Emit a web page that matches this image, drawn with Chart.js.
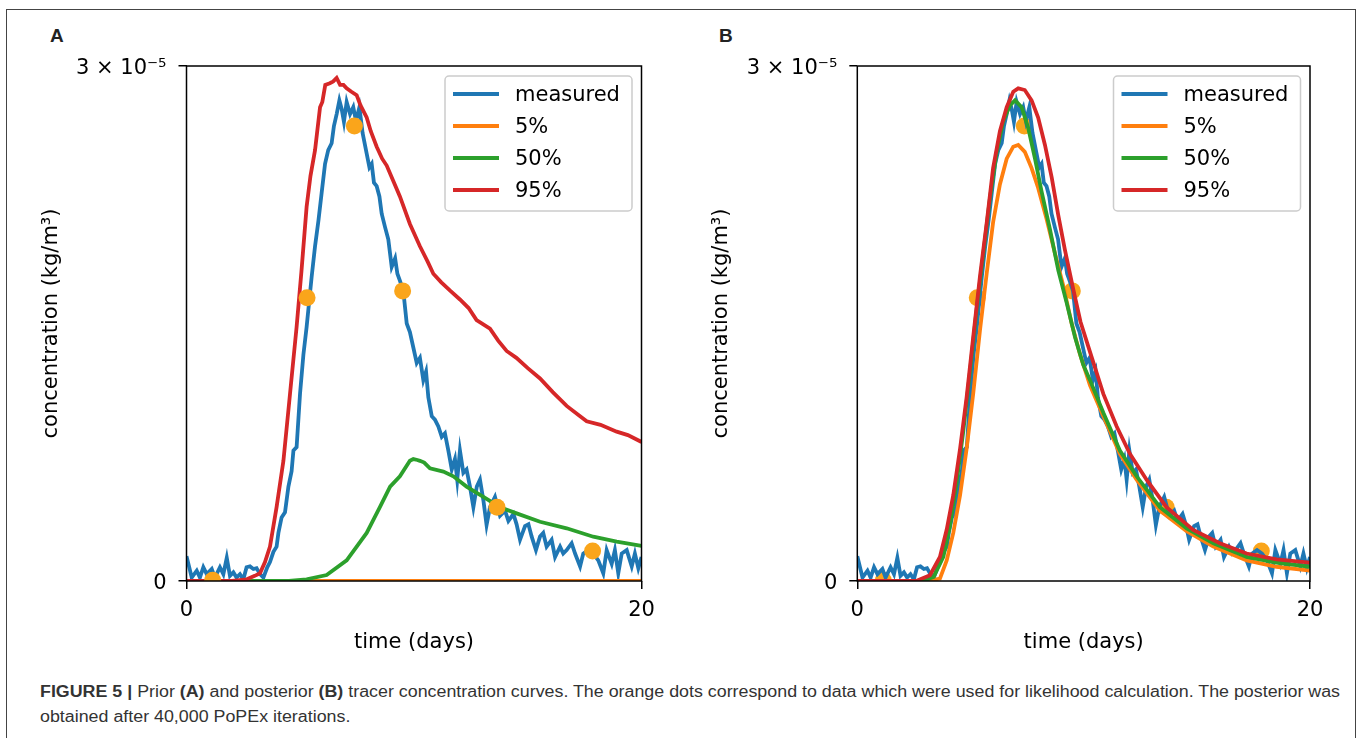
<!DOCTYPE html>
<html>
<head>
<meta charset="utf-8">
<script src="https://cdn.jsdelivr.net/npm/chart.js@4.4.1/dist/chart.umd.min.js"></script>
<style>
  body { margin: 0; background: #fff; width: 1357px; height: 738px; overflow: hidden; position: relative; }
  #frame { position: absolute; left: 6px; top: 9px; width: 1348px; height: 800px; border: 1px solid #444; }
  canvas { position: absolute; top: 0; }
  .tag { position: absolute; top: 25px; font: bold 19px 'Liberation Sans', Arial, sans-serif; color: #222; line-height: 22px; }
  #caption { position: absolute; left: 40px; top: 679px; font: 16px 'Liberation Sans', Arial, sans-serif; color: #333; line-height: 25px; white-space: nowrap; transform-origin: 0 0; }
  #caption b { font-weight: bold; }
</style>
</head>
<body>
<div id="frame"></div>
<div class="tag" style="left:50px">A</div>
<div class="tag" style="left:719px">B</div>
<canvas id="prior" width="670" height="670" style="left:0"></canvas>
<canvas id="posterior" width="687" height="670" style="left:670px"></canvas>
<div id="caption"><span id="line1"><b>FIGURE 5 |</b> Prior <b>(A)</b> and posterior <b>(B)</b> tracer concentration curves. The orange dots correspond to data which were used for likelihood calculation. The posterior was</span><br>obtained after 40,000 PoPEx iterations.</div>

<script>
// concentrations are in 1e-6 kg/m3, time in days

// measured tracer curve (same in both panels)
const measuredDays = [
  0, 0.23, 0.45, 0.59, 0.74, 0.89, 1.11, 1.25, 1.47, 1.62,
  1.77, 1.91, 2.06, 2.2, 2.35, 2.5, 2.64, 2.79, 2.94, 3.08,
  3.23, 3.38, 3.55, 3.67, 3.82, 3.96, 4.04, 4.18, 4.33, 4.48,
  4.62, 4.7, 4.84, 4.99, 5.14, 5.28, 5.5, 5.65, 5.8, 5.94,
  6.09, 6.23, 6.38, 6.48, 6.6, 6.72, 6.82, 6.92, 7.04, 7.19,
  7.33, 7.45, 7.6, 7.74, 7.92, 8.04, 8.14, 8.24, 8.36, 8.48,
  8.58, 8.73, 8.87, 9.02, 9.17, 9.27, 9.38, 9.53, 9.68, 9.82,
  9.97, 10.12, 10.26, 10.41, 10.53, 10.63, 10.78, 10.92, 11.07, 11.22,
  11.36, 11.51, 11.66, 11.8, 11.9, 12.02, 12.17, 12.31, 12.46, 12.61,
  12.76, 12.9, 13.05, 13.19, 13.34, 13.56, 13.78, 14.0, 14.15, 14.37,
  14.51, 14.66, 14.88, 15.03, 15.17, 15.36, 15.54, 15.68, 15.83, 16.05,
  16.2, 16.42, 16.56, 16.71, 16.93, 17.08, 17.3, 17.44, 17.66, 17.88,
  18.1, 18.32, 18.47, 18.69, 18.83, 18.98, 19.13, 19.35, 19.57, 19.71,
  19.86, 20
];
const measuredConc = [
  1.45, 0.2, 0.6, 0.2, 0.8, 0.4, 0.7, 0.2, 0.8, 0.4,
  1.35, 0.3, 0.5, 0.2, 0.4, 0.1, 0.8, 0.85, 0.7, 0.75,
  0.4, 0.2, 0.8, 1.1, 1.7, 2.0, 2.8, 3.7, 4.0, 5.5,
  6.4, 7.6, 7.8, 10.9, 13.2, 14.8, 17.7, 19.5, 21.0, 22.6,
  24.3, 25.1, 25.5, 26.5, 27.2, 28.0, 27.5, 26.75, 27.9, 27.2,
  27.6, 26.8, 27.6, 26.1, 24.9, 24.1, 24.3, 23.2, 23.0, 22.4,
  21.4, 20.6, 19.9, 18.3, 18.8, 17.9, 17.5, 16.9, 15.0, 14.5,
  13.6, 12.7, 13.0, 11.7, 12.2, 10.7, 9.6, 9.4, 9.0, 8.4,
  8.6, 7.6, 6.5, 7.1, 5.9, 7.6, 6.3, 6.5, 5.5, 4.3,
  5.5, 5.9, 4.7, 3.26, 4.3, 4.9, 3.8, 4.1, 3.5, 3.9,
  3.3, 2.4, 3.2, 3.3, 2.6, 1.8, 2.6, 2.8, 2.0, 2.4,
  1.4, 2.0, 1.6, 1.8, 2.2, 1.6, 0.85, 1.6, 1.8, 1.6,
  1.2, 0.45, 1.8, 1.0, 1.8, 0.45, 1.6, 1.8, 0.85, 1.6,
  0.75, 1.4
];

// data used for the likelihood (orange dots)
const dotDays = [1.15, 5.3, 7.38, 9.5, 13.65, 17.85];
const dotConc = [0.05, 16.5, 26.5, 16.9, 4.3, 1.75];

// prior (A)
const priorP5Days = [0, 20];
const priorP5Conc = [0, 0];
const priorP50Days = [0, 4.5, 5.28, 6.16, 7.04, 7.92, 8.5, 8.95, 9.38, 9.82, 9.97, 10.15, 10.26, 10.45, 10.7, 11.29, 11.73, 12.31, 13.05, 13.78, 14.51, 15.54, 16.71, 17.88, 18.91, 20];
const priorP50Conc = [0, 0, 0.1, 0.35, 1.2, 2.8, 4.3, 5.5, 6.1, 7.0, 7.1, 7.05, 7.0, 6.9, 6.56, 6.37, 6.1, 5.5, 4.9, 4.3, 3.94, 3.45, 3.07, 2.58, 2.29, 2.04];
const priorP95Days = [0, 2.0, 2.65, 3.0, 3.23, 3.45, 3.67, 3.96, 4.26, 4.55, 4.84, 5.05, 5.28, 5.45, 5.65, 5.87, 5.97, 6.1, 6.3, 6.45, 6.6, 6.75, 6.9, 7.04, 7.25, 7.48, 7.65, 7.92, 8.1, 8.36, 8.6, 8.8, 9.09, 9.38, 9.82, 10.26, 10.6, 10.85, 11.2, 11.6, 12.02, 12.4, 12.75, 13.34, 13.7, 14.07, 14.5, 15.0, 15.54, 16.1, 16.71, 17.2, 17.59, 18.2, 18.91, 19.4, 20];
const priorP95Conc = [0, 0, 0.1, 0.3, 0.45, 1.1, 2.0, 4.3, 7.0, 10.9, 14.8, 18.0, 21.8, 23.6, 25.1, 27.6, 27.9, 28.9, 29.0, 29.1, 29.3, 28.9, 28.9, 28.7, 28.5, 28.3, 27.7, 27.0, 26.2, 25.3, 24.6, 24.2, 23.3, 22.4, 20.8, 19.5, 18.6, 17.9, 17.4, 16.9, 16.4, 15.9, 15.2, 14.7, 14.0, 13.4, 13.0, 12.4, 11.8, 11.0, 10.2, 9.7, 9.3, 9.1, 8.7, 8.5, 8.1];

// posterior (B)
const postP5Days = [0, 3.1, 3.65, 3.95, 4.24, 4.54, 4.83, 5.12, 5.42, 5.72, 6.0, 6.3, 6.6, 6.89, 7.11, 7.4, 7.7, 7.99, 8.36, 8.73, 9.1, 9.47, 9.84, 10.28, 10.87, 11.6, 12.34, 13.37, 14.55, 15.73, 17.2, 18.52, 20];
const postP5Conc = [0, 0, 0.14, 1.2, 2.8, 5.0, 7.7, 10.9, 14.6, 17.95, 20.9, 23.1, 24.6, 25.3, 25.4, 25.0, 24.05, 22.9, 21.1, 19.1, 17.2, 15.0, 13.2, 11.4, 9.6, 7.4, 5.9, 4.1, 2.9, 2.0, 1.2, 0.83, 0.6];
const postP50Days = [0, 2.9, 3.37, 3.8, 4.09, 4.39, 4.68, 4.98, 5.27, 5.57, 5.86, 6.16, 6.45, 6.74, 6.97, 7.26, 7.55, 7.85, 8.14, 8.51, 8.88, 9.25, 9.62, 9.98, 10.28, 10.87, 11.6, 12.34, 13.37, 14.55, 15.73, 17.2, 18.52, 20];
const postP50Conc = [0, 0, 0.24, 1.4, 3.2, 5.75, 8.7, 12.2, 15.8, 19.1, 22.3, 25.0, 26.8, 27.7, 28.0, 27.6, 26.4, 24.6, 22.7, 20.5, 18.1, 16.2, 14.2, 12.6, 11.7, 9.8, 7.6, 6.1, 4.3, 3.07, 2.2, 1.4, 1.07, 0.83];
const postP95Days = [0, 2.6, 3.21, 3.65, 3.95, 4.24, 4.54, 4.83, 5.12, 5.42, 5.72, 6.0, 6.3, 6.6, 6.89, 7.11, 7.4, 7.7, 7.99, 8.29, 8.59, 8.88, 9.17, 9.54, 9.86, 10.28, 10.87, 11.46, 12.05, 12.78, 13.66, 14.84, 16.02, 17.2, 18.52, 20];
const postP95Conc = [0, 0, 0.34, 1.4, 3.0, 5.0, 7.7, 10.7, 14.2, 17.75, 20.9, 24.05, 26.2, 27.6, 28.5, 28.7, 28.6, 28.0, 27.0, 25.4, 23.5, 21.3, 19.3, 17.0, 15.1, 13.35, 10.9, 9.0, 7.4, 5.9, 4.3, 2.97, 2.2, 1.6, 1.26, 1.07];

// axes
const xTickVals = [0, 20];
const yTickVals = [0, 30];
const yTickText = ['0', '3 × 10⁻⁵'];

const BLUE = '#1f77b4', ORANGE = '#ff7f0e', GREEN = '#2ca02c', RED = '#d62728', DOT = '#faa51b';

Chart.defaults.font.family = "'DejaVu Sans', sans-serif";
Chart.defaults.font.size = 21;
Chart.defaults.color = '#000';

function pts(xs, ys) {
  return xs.map((x, i) => ({ x: x, y: ys[i] }));
}

function curve(label, xs, ys, color, order) {
  return {
    label: label,
    data: pts(xs, ys),
    borderColor: color,
    backgroundColor: color,
    borderWidth: 3.8,
    pointRadius: 0,
    tension: 0,
    fill: false,
    clip: 0,
    order: order,
    inLegend: true
  };
}

function dots(order) {
  return {
    data: pts(dotDays, dotConc),
    showLine: false,
    pointRadius: 8.5,
    pointHoverRadius: 8.5,
    pointBorderWidth: 0,
    backgroundColor: DOT,
    borderColor: DOT,
    clip: 0,
    order: order
  };
}

// box around the axes + legend in the upper right
const boxLegend = {
  id: 'boxLegend',
  afterDatasetsDraw(chart) {
    const ctx = chart.ctx;
    const a = chart.chartArea;
    ctx.save();
    ctx.strokeStyle = '#000';
    ctx.lineWidth = 1.5;
    ctx.strokeRect(a.left, a.top, a.right - a.left, a.bottom - a.top);

    const bw = 187, bh = 135;
    const bx = a.right - 9.5 - bw, by = a.top + 10;
    ctx.beginPath();
    ctx.roundRect(bx, by, bw, bh, 4);
    ctx.fillStyle = 'rgba(255,255,255,0.8)';
    ctx.fill();
    ctx.strokeStyle = '#cccccc';
    ctx.lineWidth = 1.5;
    ctx.stroke();

    const items = chart.data.datasets.filter(d => d.inLegend);
    ctx.font = "21px 'DejaVu Sans'";
    ctx.textBaseline = 'middle';
    ctx.textAlign = 'left';
    items.forEach((d, i) => {
      const y = by + 18 + i * 32;
      ctx.beginPath();
      ctx.moveTo(bx + 8, y);
      ctx.lineTo(bx + 54, y);
      ctx.strokeStyle = d.borderColor;
      ctx.lineWidth = 3.8;
      ctx.stroke();
      ctx.fillStyle = '#000';
      ctx.fillText(d.label, bx + 70, y + 2);
    });
    ctx.restore();
  }
};

function makePanel(id, datasets, yAxisW, rightPad) {
  const tickGrid = { display: true, drawOnChartArea: false, drawTicks: true, tickLength: 8, color: '#000', lineWidth: 1.5 };
  return new Chart(document.getElementById(id), {
    type: 'line',
    data: { datasets: datasets },
    options: {
      responsive: false,
      animation: false,
      devicePixelRatio: 1,
      layout: { padding: { left: 0, top: 66, right: rightPad, bottom: 9 } },
      plugins: { legend: { display: false }, tooltip: { enabled: false } },
      scales: {
        x: {
          type: 'linear', min: 0, max: 20,
          afterBuildTicks: s => { s.ticks = xTickVals.map(v => ({ value: v })); },
          afterFit: s => { s.height = 80; },
          ticks: { padding: 9, maxRotation: 0, callback: v => String(v) },
          grid: tickGrid,
          border: { display: false },
          title: { display: true, text: 'time (days)', padding: { top: 0, bottom: 5.4 } }
        },
        y: {
          type: 'linear', min: 0, max: 30,
          afterBuildTicks: s => { s.ticks = yTickVals.map(v => ({ value: v })); },
          afterFit: s => { s.width = yAxisW; },
          ticks: { padding: 12, labelOffset: 3, callback: (v, i) => yTickText[i] },
          grid: tickGrid,
          border: { display: false },
          title: { display: true, text: 'concentration (kg/m³)', padding: { top: 39.4, bottom: 0 } }
        }
      }
    },
    plugins: [boxLegend]
  });
}

makePanel('prior', [
  curve('measured', measuredDays, measuredConc, BLUE, 4),
  curve('5%', priorP5Days, priorP5Conc, ORANGE, 3),
  curve('50%', priorP50Days, priorP50Conc, GREEN, 2),
  curve('95%', priorP95Days, priorP95Conc, RED, 1),
  dots(0)
], 186.5, 28.5);

makePanel('posterior', [
  curve('measured', measuredDays, measuredConc, BLUE, 4),
  curve('5%', postP5Days, postP5Conc, ORANGE, 3),
  curve('50%', postP50Days, postP50Conc, GREEN, 2),
  curve('95%', postP95Days, postP95Conc, RED, 1),
  dots(5)
], 187.3, 47);

// squeeze the caption to the figure's text width
const cap = document.getElementById('caption');
const w1 = document.getElementById('line1').getBoundingClientRect().width;
cap.style.transform = 'scaleX(' + (1300 / w1) + ')';
</script>
</body>
</html>
